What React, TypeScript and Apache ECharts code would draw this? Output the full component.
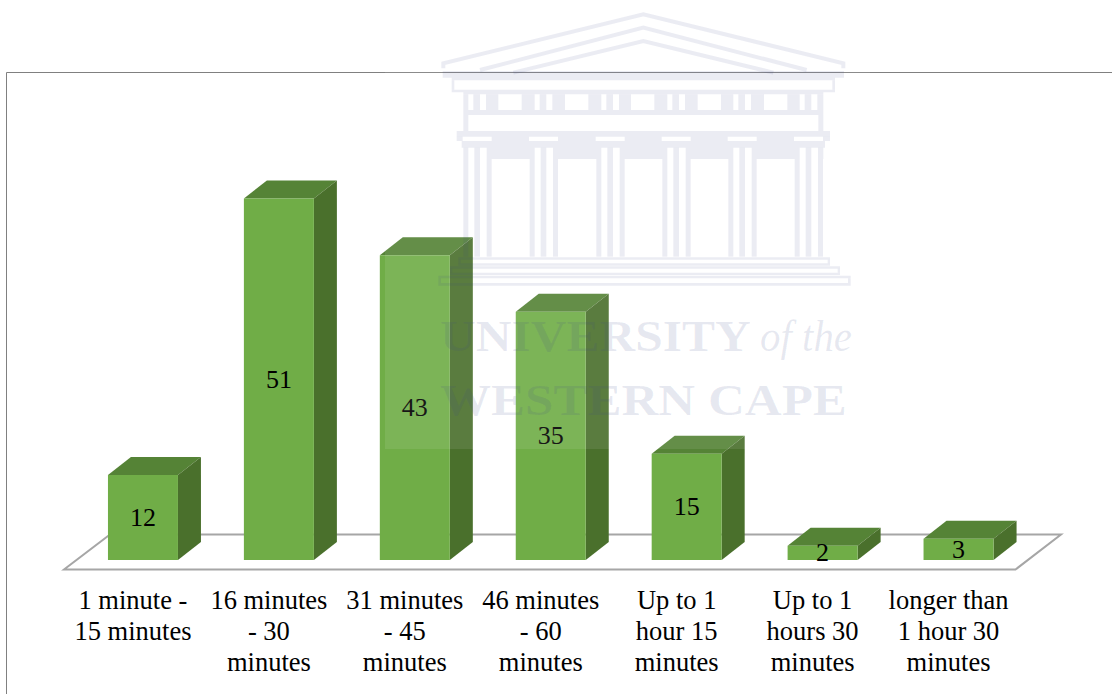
import React, { useEffect, useRef } from "react";
import * as echarts from "echarts";

const categories = [
  "1 minute -\n15 minutes",
  "16 minutes\n- 30\nminutes",
  "31 minutes\n- 45\nminutes",
  "46 minutes\n- 60\nminutes",
  "Up to 1\nhour 15\nminutes",
  "Up to 1\nhours 30\nminutes",
  "longer than\n1 hour 30\nminutes",
];
const values = [12, 51, 43, 35, 15, 2, 3];
const watermarkLines = ["UNIVERSITY", "of the", "WESTERN CAPE"];

const SERIF = "'Liberation Serif', 'Times New Roman', serif";
const FRONT = "#70AD47";
const TOP = "#558336";
const SIDE = "#4A702C";
const INK = "rgba(62,72,135,0.1)";

// Watermark helpers: coordinates measured in a 3x crop whose origin is (430, 5)
const px = (z: number) => 430 + z / 3;
const py = (z: number) => 5 + z / 3;
const wmRect = (x0: number, y0: number, x1: number, y1: number) => ({
  type: "rect",
  z: 100,
  silent: true,
  shape: { x: px(x0), y: py(y0), width: (x1 - x0) / 3, height: (y1 - y0) / 3 },
  style: { fill: INK },
});
const wmRow = (y0: number, y1: number, x0: number, x1: number, holes: number[][]) => {
  const out: any[] = [];
  let cur = x0;
  holes.forEach(([a, b]) => {
    out.push(wmRect(cur, y0, a, y1));
    cur = b;
  });
  out.push(wmRect(cur, y0, x1, y1));
  return out;
};
const wmFrame = (x0: number, y0: number, x1: number, y1: number, t: number) => [
  wmRect(x0, y0, x1, y0 + t),
  wmRect(x0, y1 - t, x1, y1),
  wmRect(x0, y0 + t, x0 + t, y1 - t),
  wmRect(x1 - t, y0 + t, x1, y1 - t),
];
const wmLine = (pts: number[][], w: number) => ({
  type: "polyline",
  z: 100,
  silent: true,
  shape: { points: pts.map(([x, y]) => [px(x), py(y)]) },
  style: { stroke: INK, lineWidth: w, fill: "none" },
});
const wmText = (text: string, x: number, y: number, size: number, scaleX: number, italic = false) => ({
  type: "text",
  z: 100,
  silent: true,
  x,
  y,
  scaleX,
  style: {
    text,
    x: 0,
    y: 0,
    fill: "rgba(62,72,135,0.12)",
    fontFamily: SERIF,
    fontSize: size,
    fontWeight: italic ? "normal" : "bold",
    fontStyle: italic ? "italic" : "normal",
    align: "left",
    verticalAlign: "middle",
  },
});

function buildWatermark() {
  const cols = [141, 340, 540, 738, 936, 1135];
  const metopes = [240, 440, 638, 838, 1037];
  const els: any[] = [];
  // pediment
  els.push(wmLine([[40, 190], [40, 175], [640, 28], [1240, 175], [1240, 190]], 4));
  els.push(wmLine([[150, 195], [640, 68], [1130, 195]], 4));
  els.push(wmLine([[250, 203], [640, 108], [1030, 203]], 4));
  // cornice
  els.push(wmRect(38, 198, 1242, 218));
  els.push(...wmFrame(65, 218, 1215, 262, 8));
  // frieze
  const friezeHoles: number[][] = [];
  cols.forEach((c, i) => {
    friezeHoles.push([c - 26, c - 11], [c + 9, c + 27]);
    if (i < metopes.length) friezeHoles.push([metopes[i] - 35, metopes[i] + 35]);
  });
  els.push(wmRect(100, 262, 1180, 268));
  els.push(...wmRow(268, 315, 100, 1180, friezeHoles));
  els.push(wmRect(100, 315, 1180, 330));
  els.push(wmRect(100, 330, 115, 378), wmRect(1165, 330, 1180, 378));
  // capitals band
  els.push(wmRect(80, 378, 1200, 395));
  els.push(...wmRow(395, 408, 80, 1200, cols.map((c) => [c - 43, c + 44])));
  els.push(wmRect(95, 408, 1185, 428));
  const colHoles: number[][] = [];
  cols.forEach((c) => colHoles.push([c - 26, c - 8], [c + 9, c + 29]));
  els.push(...wmRow(428, 462, 100, 1180, colHoles));
  // columns
  cols.forEach((c) => {
    els.push(wmRect(c - 41, 462, c - 26, 755));
    els.push(wmRect(c - 8, 462, c + 9, 755));
    els.push(wmRect(c + 29, 462, c + 44, 755));
  });
  // steps
  els.push(...wmFrame(85, 757, 1200, 782, 7));
  els.push(...wmFrame(60, 784, 1230, 810, 7));
  els.push(...wmFrame(25, 812, 1262, 842, 8));
  // lettering
  els.push(wmText(watermarkLines[0], 440, 336, 45, 1.1));
  els.push(wmText(watermarkLines[1], 760, 336, 44, 0.93, true));
  els.push(wmText(watermarkLines[2], 440, 400, 44, 1.16));
  // pale veil of the pasted watermark image
  els.push({
    type: "rect",
    z: 99,
    silent: true,
    shape: { x: 385, y: 8, width: 485, height: 441 },
    style: { fill: "rgba(255,255,255,0.09)" },
  });
  return els;
}

export default function App() {
  const ref = useRef<HTMLDivElement>(null);
  useEffect(() => {
    document.body.style.margin = "0";
    const chart = echarts.init(ref.current!, null, { renderer: "svg" });
    const renderBar = (_: any, api: any) => {
      const DX = 23;
      const DY = 18;
      const HALF = 35;
      const i = api.value(0);
      const v = api.value(1);
      const base = api.coord([i, 0]);
      const top = api.coord([i, v]);
      const cx = base[0] + 10;
      const yb = base[1] - 9;
      const yt = top[1] - 9;
      const l = cx - HALF;
      const r = cx + HALF;
      return {
        type: "group",
        children: [
          {
            type: "polygon",
            shape: { points: [[l, yt], [r, yt], [r + DX, yt - DY], [l + DX, yt - DY]] },
            style: { fill: TOP },
          },
          {
            type: "polygon",
            shape: { points: [[r, yt], [r + DX, yt - DY], [r + DX, yb - DY], [r, yb]] },
            style: { fill: SIDE },
          },
          {
            type: "rect",
            shape: { x: l, y: yt, width: 2 * HALF, height: yb - yt },
            style: { fill: FRONT },
          },
          {
            type: "text",
            style: {
              text: String(v),
              x: cx,
              y: (yt + yb) / 2,
              align: "center",
              verticalAlign: "middle",
              fontFamily: SERIF,
              fontSize: 26,
              fill: "#000",
            },
          },
        ],
      };
    };
    chart.setOption({
      animation: false,
      backgroundColor: "#fff",
      grid: { left: 65, right: 95.5, top: 72.7, bottom: 125 },
      xAxis: {
        type: "category",
        data: categories,
        axisLine: { show: false },
        axisTick: { show: false },
        splitLine: { show: false },
        axisLabel: {
          interval: 0,
          margin: 15,
          fontFamily: SERIF,
          fontSize: 26.5,
          lineHeight: 31,
          color: "#000",
          align: "center",
          verticalAlign: "top",
        },
      },
      yAxis: { type: "value", show: false, min: 0, max: 70 },
      series: [
        {
          type: "custom",
          z: 5,
          clip: false,
          renderItem: renderBar,
          data: values.map((v, i) => [i, v]),
          encode: { x: 0, y: 1 },
        },
      ],
      graphic: {
        elements: [
          {
            type: "rect",
            z: 0,
            silent: true,
            shape: { x: 6.5, y: 72.5, width: 1200, height: 700 },
            style: { fill: "none", stroke: "#808080", lineWidth: 1 },
          },
          {
            type: "polygon",
            z: 1,
            silent: true,
            shape: { points: [[64, 569.5], [110, 534.5], [1061, 534.5], [1015.5, 569.5]] },
            style: { fill: "#fff", stroke: "#A6A6A6", lineWidth: 2 },
          },
          ...buildWatermark(),
        ],
      },
    });
    return () => chart.dispose();
  }, []);
  return <div ref={ref} style={{ width: 1112, height: 694 }} />;
}
